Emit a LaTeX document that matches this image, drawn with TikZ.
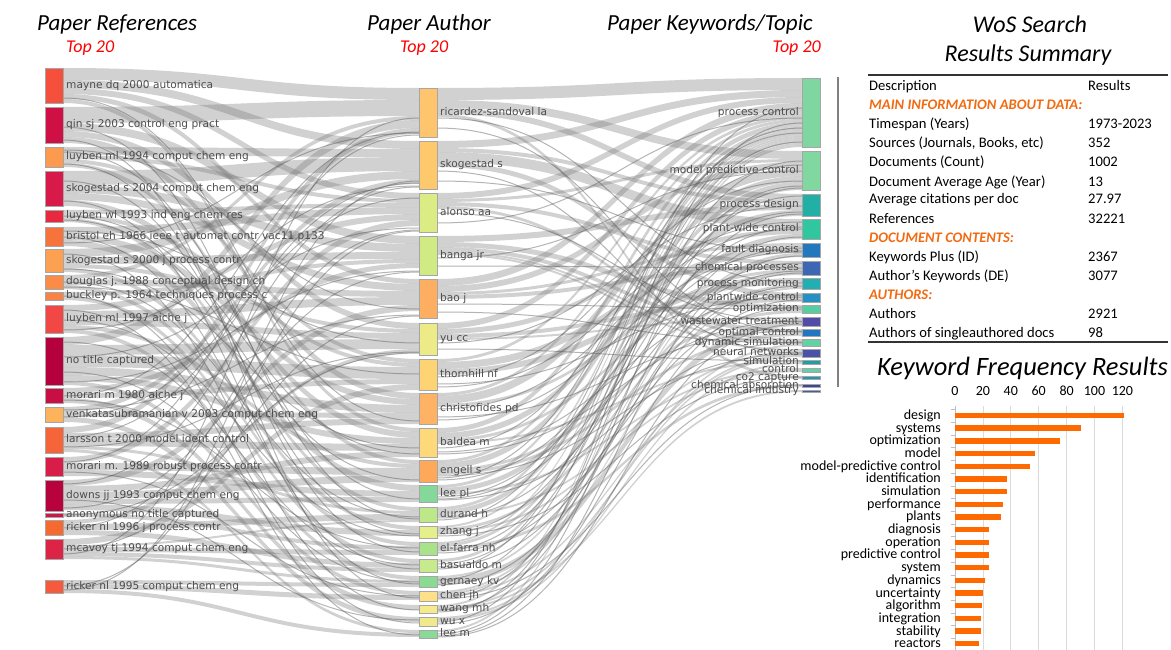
\documentclass[tikz,border=0pt]{standalone}
\usepackage{fontspec}
\setmainfont{Carlito}
\newfontfamily\skfont{DejaVu Sans}
\usetikzlibrary{calc}
\pgfdeclarelayer{bg}
\pgfsetlayers{bg,main}
% reference colours
\definecolor{cR1}{HTML}{F4503C}\definecolor{cR2}{HTML}{CE1045}\definecolor{cR3}{HTML}{FC9A50}
\definecolor{cR4}{HTML}{D81A4A}\definecolor{cR5}{HTML}{E8283F}\definecolor{cR6}{HTML}{F7733C}
\definecolor{cR7}{HTML}{FCA152}\definecolor{cR8}{HTML}{FA8C48}\definecolor{cR9}{HTML}{F98244}
\definecolor{cR10}{HTML}{F24845}\definecolor{cR11}{HTML}{B5003E}\definecolor{cR12}{HTML}{C80E42}
\definecolor{cR13}{HTML}{FDB35C}\definecolor{cR14}{HTML}{F6653A}\definecolor{cR15}{HTML}{D81E48}
\definecolor{cR16}{HTML}{B8023E}\definecolor{cR17}{HTML}{CC1848}\definecolor{cR18}{HTML}{F66A30}
\definecolor{cR19}{HTML}{DC2446}\definecolor{cR20}{HTML}{F65A3C}
% author colours
\definecolor{cA1}{HTML}{FEC46E}\definecolor{cA2}{HTML}{FEC86C}\definecolor{cA3}{HTML}{DCEC84}
\definecolor{cA4}{HTML}{D0EA84}\definecolor{cA5}{HTML}{FDAE60}\definecolor{cA6}{HTML}{ECEB88}
\definecolor{cA7}{HTML}{FED374}\definecolor{cA8}{HTML}{FDB363}\definecolor{cA9}{HTML}{FED97C}
\definecolor{cA10}{HTML}{FDA85A}\definecolor{cA11}{HTML}{84D89A}\definecolor{cA12}{HTML}{BDE88A}
\definecolor{cA13}{HTML}{E6F08A}\definecolor{cA14}{HTML}{A8E38C}\definecolor{cA15}{HTML}{C6EA8C}
\definecolor{cA16}{HTML}{8ADB92}\definecolor{cA17}{HTML}{FEE088}\definecolor{cA18}{HTML}{F5EA8C}
\definecolor{cA19}{HTML}{F2E98E}\definecolor{cA20}{HTML}{88D99A}
% keyword colours
\definecolor{cK1}{HTML}{7FD6A0}\definecolor{cK2}{HTML}{80D8A0}\definecolor{cK3}{HTML}{22AFA6}
\definecolor{cK4}{HTML}{2FC6A0}\definecolor{cK5}{HTML}{2378BD}\definecolor{cK6}{HTML}{3D66B5}
\definecolor{cK7}{HTML}{21AFB1}\definecolor{cK8}{HTML}{2590C2}\definecolor{cK9}{HTML}{55CFA0}
\definecolor{cK10}{HTML}{524BA8}\definecolor{cK11}{HTML}{2178C0}\definecolor{cK12}{HTML}{62D2A2}
\definecolor{cK13}{HTML}{4853A8}\definecolor{cK14}{HTML}{1F9FA2}\definecolor{cK15}{HTML}{62CFA8}
\definecolor{cK16}{HTML}{2098B0}\definecolor{cK17}{HTML}{3E4796}\definecolor{cK18}{HTML}{405FA0}
\definecolor{hdrorange}{HTML}{F26A10}
\definecolor{barorange}{HTML}{FF6A00}
\definecolor{sklabel}{HTML}{4C4C4C}
% sankey band: src node, src offset, dst node, dst offset, width
\newcommand\skband[5]{%
  \fill[bandstyle] let \p1=(#1.north east), \p2=(#3.north west) in
    (\x1,{\y1-#2pt}) .. controls ({(\x1+\x2)/2},{\y1-#2pt}) and ({(\x1+\x2)/2},{\y2-#4pt}) .. (\x2,{\y2-#4pt})
    -- (\x2,{\y2-#4pt-#5pt}) .. controls ({(\x1+\x2)/2},{\y2-#4pt-#5pt}) and ({(\x1+\x2)/2},{\y1-#2pt-#5pt}) .. (\x1,{\y1-#2pt-#5pt}) -- cycle;}
% thin sankey link
\newcommand\skline[4]{%
  \draw[linestyle] let \p1=(#1.north east), \p2=(#3.north west) in
    (\x1,{\y1-#2pt}) .. controls ({(\x1+\x2)/2},{\y1-#2pt}) and ({(\x1+\x2)/2},{\y2-#4pt}) .. (\x2,{\y2-#4pt});}
\begin{document}
\begin{tikzpicture}[x=1pt,y=-1pt,
  sknode/.style={draw=black!35, line width=0.4pt, minimum width=18pt, inner sep=0pt, outer sep=0pt, anchor=north west},
  lab/.style={font=\skfont\fontsize{10.6}{12}\selectfont, text=sklabel, inner sep=0pt, text height=7.5pt, text depth=2pt},
  bandstyle/.style={fill=black!55, fill opacity=0.33},
  linestyle/.style={draw=black!65, line width=1.0pt, draw opacity=0.45},
  coltitle/.style={font=\itshape\fontsize{23}{26}\selectfont, inner sep=0pt, anchor=base west},
  topt/.style={font=\itshape\fontsize{18}{22}\selectfont, text=red, inner sep=0pt},
  bigtitle/.style={font=\itshape\fontsize{24}{28}\selectfont, inner sep=0pt, anchor=base},
  tab/.style={font=\fontsize{14.6}{18}\selectfont, inner sep=0pt, anchor=base west},
  hdr/.style={font=\bfseries\itshape\fontsize{14.6}{18}\selectfont, text=hdrorange, inner sep=0pt, anchor=base west},
  barlab/.style={font=\fontsize{14}{16}\selectfont, inner sep=0pt, anchor=base east},
  axnum/.style={font=\fontsize{14}{16}\selectfont, inner sep=0pt, anchor=base},
  gridl/.style={draw=black!14, line width=0.8pt},
  axisl/.style={draw=black!25, line width=0.8pt},
  barfill/.style={fill=barorange},
  rulel/.style={draw=black!80, line width=1.2pt}
]
\useasboundingbox (0,0) rectangle (1171,650);

% ---------- titles ----------
\node[coltitle] (t-ref) at (37,31) {Paper References};
\node[topt, anchor=base west] (t-ref-top) at (66,53) {Top 20};
\node[coltitle] (t-aut) at (367,31) {Paper Author};
\node[topt, anchor=base west] (t-aut-top) at (400,53) {Top 20};
\node[coltitle] (t-kw) at (607,31) {Paper Keywords/Topic};
\node[topt, anchor=base east] (t-kw-top) at (821,53) {Top 20};

% ---------- sankey nodes ----------
\foreach \n/\t/\h in {R1/68/35, R2/107/36, R3/147/20, R4/171/35, R5/210/12, R6/227/19, R7/249/23, R8/275/14, R9/292/8, R10/305/28, R11/337/48, R12/388/15, R13/407/15, R14/427/26, R15/457/19, R16/480/31, R17/513/4, R18/520/15, R19/539/20, R20/580/13}
  \node[sknode, fill=c\n, minimum height=\h pt] (\n) at (45,\t) {};
\foreach \n/\t/\h in {A1/88/49, A2/141/48, A3/193/39, A4/236/39, A5/279/39, A6/323/32, A7/359/31, A8/393/31, A9/428/29, A10/460/22, A11/485/17, A12/507/15, A13/526/12, A14/542/13, A15/559/13, A16/576/11, A17/591/10, A18/605/8, A19/617/9, A20/630/8}
  \node[sknode, fill=c\n, minimum height=\h pt] (\n) at (419,\t) {};
\foreach \n/\t/\h in {K1/78/69, K2/151/39, K3/194/22, K4/219/20, K5/243/14, K6/261/14, K7/278/11, K8/293/9, K9/305/8, K10/317/9, K11/329/7, K12/339/7, K13/349/8, K14/360/4, K15/368/4, K16/376/3, K17/384/3, K18/390/2}
  \node[sknode, fill=c\n, minimum height=\h pt] (\n) at (802,\t) {};

% ---------- sankey links ----------
\begin{pgfonlayer}{bg}
\foreach \qa/\qb/\qc/\qd/\qe in {
 R1/0/A1/0/12, R1/12/A2/0/8, R1/20/A3/0/6, R1/26/A5/0/5, R1/31/A9/0/4,
 R2/0/A1/12/16, R2/16/A4/0/8, R2/24/A6/0/6, R2/30/A8/0/6,
 R3/0/A2/8/8, R3/8/A3/6/4, R3/12/A7/0/4, R3/16/A10/0/4,
 R4/0/A2/16/14, R4/14/A4/8/8, R4/22/A5/5/7, R4/29/A9/4/6,
 R5/0/A3/10/4, R5/4/A7/4/4, R5/8/A12/0/4,
 R6/0/A3/14/7, R6/7/A8/6/6, R6/13/A11/0/6,
 R7/0/A2/30/8, R7/8/A4/16/7, R7/15/A6/6/4, R7/19/A13/0/4,
 R8/0/A1/28/4, R8/4/A5/12/6, R8/10/A14/0/4,
 R9/0/A4/23/4, R9/4/A15/0/4,
 R10/0/A3/21/6, R10/6/A5/18/8, R10/14/A6/10/6, R10/20/A10/4/4, R10/24/A16/0/4,
 R11/0/A1/32/8, R11/8/A6/16/10, R11/18/A7/8/12, R11/30/A8/12/8, R11/38/A9/10/6, R11/44/A17/0/4,
 R12/0/A4/27/5, R12/5/A7/20/5, R12/10/A18/0/5,
 R13/0/A2/38/5, R13/5/A8/20/5, R13/10/A19/0/5,
 R14/0/A1/40/6, R14/6/A8/25/6, R14/12/A9/16/7, R14/19/A12/4/3, R14/22/A20/0/3,
 R15/0/A3/27/6, R15/6/A10/8/7, R15/13/A11/6/6,
 R16/0/A5/26/6, R16/6/A9/23/6, R16/12/A10/15/7, R16/19/A11/12/5, R16/24/A13/4/6,
 R17/0/A14/4/4,
 R18/0/A6/26/4, R18/4/A12/7/6, R18/10/A15/4/5,
 R19/0/A7/25/6, R19/6/A12/13/2, R19/8/A14/8/5, R19/13/A15/9/4, R19/17/A16/4/3,
 R20/0/A16/7/4, R20/4/A17/4/5, R20/9/A20/3/4,
 A1/0/K1/0/12, A1/12/K2/0/8, A1/20/K3/0/6, A1/26/K16/0/3,
 A2/0/K1/12/7, A2/7/K3/6/4, A2/11/K4/0/10, A2/21/K8/0/5,
 A3/0/K1/19/6, A3/6/K2/8/3, A3/9/K6/0/4, A3/13/K12/0/3,
 A4/0/K3/10/6, A4/6/K9/0/5, A4/11/K11/0/4, A4/15/K12/3/2, A4/17/K13/0/2,
 A5/0/K1/25/7, A5/7/K2/11/6, A5/13/K5/0/3, A5/16/K6/4/4,
 A6/0/K1/32/6, A6/6/K4/10/5, A6/11/K8/5/4, A6/15/K10/0/2,
 A7/0/K1/38/3, A7/3/K5/3/7, A7/10/K7/0/6,
 A8/0/K1/41/3, A8/3/K2/17/8, A8/11/K6/8/3,
 A9/0/K1/44/5, A9/5/K3/16/6, A9/11/K6/11/3, A9/14/K14/0/2,
 A10/0/K1/49/3, A10/3/K2/25/6, A10/9/K9/5/3, A10/12/K11/4/3,
 A11/0/K1/52/3, A11/3/K4/15/5, A11/8/K15/0/2,
 A12/0/K1/55/3, A12/3/K2/31/5, A12/8/K15/2/2,
 A13/0/K1/58/2, A13/2/K7/6/3, A13/5/K13/2/2,
 A14/0/K1/60/2, A14/2/K2/36/3, A14/5/K17/0/3,
 A15/0/K1/62/3,
 A16/0/K5/10/2, A16/2/K10/2/7,
 A17/0/K5/12/2, A17/2/K7/9/2, A17/4/K13/4/2,
 A18/0/K1/65/2, A18/2/K13/6/2, A18/4/K18/0/2,
 A19/0/K12/5/2, A19/2/K14/2/2,
 A20/0/K1/67/2}
  {\skband{\qa}{\qb}{\qc}{\qd}{\qe}}
\foreach \qa/\qb/\qc/\qd in {
 R1/30/A8/28, R2/20/A12/12, R2/33/A17/7, R3/5/A11/14, R3/17/A14/10, R4/10/A13/8, R4/30/A16/8,
 R5/6/A9/26, R6/10/A15/10, R6/16/A1/45, R7/5/A18/5, R7/20/A9/20, R8/7/A12/10, R9/4/A19/6,
 R10/5/A20/5, R10/15/A13/10, R10/25/A2/45, R11/5/A15/6, R11/20/A3/35, R11/35/A16/6, R11/45/A4/35,
 R12/8/A1/44, R12/12/A14/6, R13/10/A3/5, R13/3/A5/36, R14/10/A2/42, R14/20/A6/29, R15/5/A1/47,
 R15/15/A17/5, R16/4/A2/46, R16/20/A19/3, R16/28/A4/36, R18/8/A3/37, R19/10/A5/37, R19/15/A1/30,
 R20/6/A3/38, R20/10/A2/40, R17/2/A6/30, R8/12/A7/15, R5/10/A10/20, R3/3/A5/30, R6/4/A6/20,
 A1/30/K7/5, A1/40/K11/3, A2/30/K13/4, A2/40/K5/8, A3/20/K10/5, A3/30/K1/40, A4/22/K2/20,
 A4/30/K6/7, A5/25/K9/4, A5/33/K12/4, A6/20/K3/12, A6/26/K14/1, A7/18/K2/30, A7/25/K8/4,
 A8/16/K4/10, A8/24/K11/2, A9/20/K2/14, A9/26/K10/4, A10/18/K1/55, A10/20/K5/5, A11/12/K3/18,
 A11/15/K12/3, A12/11/K6/10, A12/13/K1/50, A13/8/K4/8, A13/10/K16/1, A14/9/K3/2, A14/11/K9/2,
 A15/5/K2/35, A15/8/K7/8, A15/10/K1/30, A16/4/K1/64, A16/9/K6/12, A17/7/K3/20, A17/8/K17/1,
 A18/5/K4/18, A18/7/K2/10, A19/5/K1/45, A19/7/K8/7, A20/4/K2/37, A20/6/K5/13, A20/7/K10/7,
 A7/28/K4/3, A8/27/K5/9, A9/24/K8/2, A10/16/K13/5, A11/14/K6/2}
  {\skline{\qa}{\qb}{\qc}{\qd}}
\end{pgfonlayer}

% ---------- sankey labels ----------
\foreach \n/\s in {R1/mayne dq 2000 automatica, R2/qin sj 2003 control eng pract, R3/luyben ml 1994 comput chem eng, R4/skogestad s 2004 comput chem eng, R5/luyben wl 1993 ind eng chem res, R6/bristol eh 1966 ieee t automat contr vac11 p133, R7/skogestad s 2000 j process contr, R8/douglas j. 1988 conceptual design ch, R9/buckley p. 1964 techniques process c, R10/luyben ml 1997 aiche j, R11/no title captured, R12/morari m 1980 aiche j, R13/venkatasubramanian v 2003 comput chem eng, R14/larsson t 2000 model ident control, R15/morari m. 1989 robust process contr, R16/downs jj 1993 comput chem eng, R17/anonymous no title captured, R18/ricker nl 1996 j process contr, R19/mcavoy tj 1994 comput chem eng, R20/ricker nl 1995 comput chem eng}
  \node[lab, anchor=west] (\n-l) at ([xshift=3pt]\n.east) {\s};
\foreach \n/\s in {A1/ricardez-sandoval la, A2/skogestad s, A3/alonso aa, A4/banga jr, A5/bao j, A6/yu cc, A7/thornhill nf, A8/christofides pd, A9/baldea m, A10/engell s, A11/lee pl, A12/durand h, A13/zhang j, A14/el-farra nh, A15/basualdo m, A16/gernaey kv, A17/chen jh, A18/wang mh, A19/wu x, A20/lee m}
  \node[lab, anchor=west] (\n-l) at ([xshift=3pt]\n.east) {\s};
\foreach \n/\s in {K1/process control, K2/model predictive control, K3/process design, K4/plant-wide control, K5/fault diagnosis, K6/chemical processes, K7/process monitoring, K8/plantwide control, K9/optimization, K10/wastewater treatment, K11/optimal control, K12/dynamic simulation, K13/neural networks, K14/simulation, K15/control, K16/co2 capture, K17/chemical absorption, K18/chemical industry}
  \node[lab, anchor=east] (\n-l) at ([xshift=-3pt]\n.west) {\s};

% separator
\draw[draw=black!50, line width=2.5pt] (838,77) -- (838,387);

% ---------- WoS table ----------
\node[bigtitle] (wos1) at (1030,33) {WoS Search};
\node[bigtitle] (wos2) at (1028,62) {Results Summary};
\draw[rulel] (868,75) -- (1168,75);
\node[tab] (r0a) at (869,91) {Description};
\node[tab] (r0b) at (1088,91) {Results};
\node[hdr] (r1a) at (869,110) {MAIN INFORMATION ABOUT DATA:};
\node[tab] (r2a) at (869,129) {Timespan (Years)};
\node[tab] (r2b) at (1088,129) {1973-2023};
\node[tab] (r3a) at (869,148) {Sources (Journals, Books, etc)};
\node[tab] (r3b) at (1088,148) {352};
\node[tab] (r4a) at (869,167) {Documents (Count)};
\node[tab] (r4b) at (1088,167) {1002};
\node[tab] (r5a) at (869,186) {Document Average Age (Year)};
\node[tab] (r5b) at (1088,186) {13};
\node[tab] (r6a) at (869,204) {Average citations per doc};
\node[tab] (r6b) at (1088,204) {27.97};
\node[tab] (r7a) at (869,223) {References};
\node[tab] (r7b) at (1088,223) {32221};
\node[hdr] (r8a) at (869,242) {DOCUMENT CONTENTS:};
\node[tab] (r9a) at (869,261) {Keywords Plus (ID)};
\node[tab] (r9b) at (1088,261) {2367};
\node[tab] (r10a) at (869,280) {Author's Keywords (DE)};
\node[tab] (r10b) at (1088,280) {3077};
\node[hdr] (r11a) at (869,299) {AUTHORS:};
\node[tab] (r12a) at (869,318) {Authors};
\node[tab] (r12b) at (1088,318) {2921};
\node[tab] (r13a) at (869,337) {Authors of singleauthored docs};
\node[tab] (r13b) at (1088,337) {98};
\draw[rulel] (868,342) -- (1168,342);

% ---------- keyword frequency chart ----------
\node[bigtitle, anchor=base east, font=\itshape\fontsize{26.5}{30}\selectfont] (kft) at (1168,375) {Keyword Frequency Results};
\foreach \k/\t in {0/0, 1/20, 2/40, 3/60, 4/80, 5/100, 6/120}
  \node[axnum] (ax\k) at ({955+27.9*\k},395) {\t};
\foreach \k in {1,...,6}
  \draw[gridl] ({955+27.9*\k},406) -- ({955+27.9*\k},650);
\draw[axisl] (955,406) -- (955,650);
\foreach \k in {0,...,19}
  \draw[axisl] (951,{409.6+12.72*\k}) -- (955,{409.6+12.72*\k});
\foreach \i/\kw/\val in {0/design/121, 1/systems/90, 2/optimization/75, 3/model/57, 4/model-predictive control/54, 5/identification/37, 6/simulation/37, 7/performance/34.5, 8/plants/33, 9/diagnosis/24.5, 10/operation/24.5, 11/predictive control/24.5, 12/system/24.5, 13/dynamics/21.5, 14/uncertainty/20, 15/algorithm/19.5, 16/integration/18.5, 17/stability/18.5, 18/reactors/17.5}
{
  \pgfmathsetmacro\yy{415.5+12.68*\i}
  \node[barlab] (bl\i) at (941,{\yy+4}) {\kw};
  \fill[barfill] (955,{\yy-2.7}) rectangle ({955+1.395*\val},{\yy+2.7});
}
\end{tikzpicture}
\end{document}
